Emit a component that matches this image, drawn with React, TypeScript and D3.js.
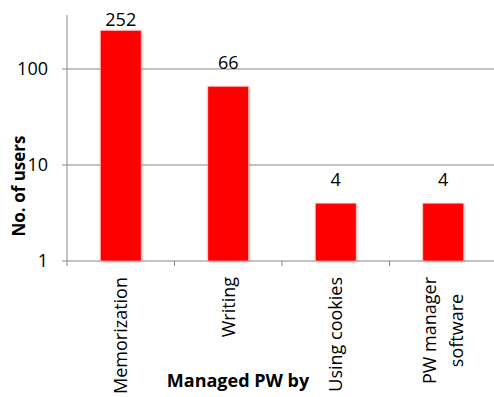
import React, { useEffect, useRef } from "react";
import * as d3 from "d3";

const categories: string[][] = [["Memorization"], ["Writing"], ["Using cookies"], ["PW manager", "software"]];
const values: number[] = [252, 66, 4, 4];
const yTicks: number[] = [1, 10, 100];
const yLabel = "No. of users";
const xLabel = "Managed PW by";

const W = 494, H = 397;
const FONT = "'Open Sans', sans-serif";

export default function App() {
  const ref = useRef<SVGSVGElement>(null);
  useEffect(() => {
    const svg = d3.select(ref.current);
    svg.selectAll("*").remove();
    const left = 67, right = 497, top = 15, bottom = 261;
    const y = d3.scaleLog().domain([1, Math.pow(10, (bottom - top) / 96)]).range([bottom, top]);
    const x = d3.scaleBand<number>().domain(d3.range(values.length)).range([left, right]).paddingInner(0.62).paddingOuter(0.31);
    const step = x.step();

    const defs = svg.append("defs");
    const f = defs.append("filter").attr("id", "sh").attr("x", "-20%").attr("y", "-20%").attr("width", "140%").attr("height", "140%");
    f.append("feDropShadow").attr("dx", 0.5).attr("dy", 0.5).attr("stdDeviation", 1).attr("flood-color", "#000").attr("flood-opacity", 0.3);

    const grid = "#868686";
    yTicks.forEach((t) => {
      svg.append("line").attr("x1", left - 5).attr("x2", W).attr("y1", y(t)).attr("y2", y(t)).attr("stroke", grid).attr("stroke-width", 1);
      svg.append("text").attr("x", 48).attr("y", y(t)).attr("dy", "0.35em").attr("text-anchor", "end")
        .attr("font-family", FONT).attr("font-size", 18).attr("fill", "#000").text(String(t));
    });
    svg.append("line").attr("x1", left).attr("x2", left).attr("y1", top).attr("y2", bottom).attr("stroke", grid).attr("stroke-width", 1);
    d3.range(values.length + 1).forEach((i) => {
      const xx = left + i * step;
      svg.append("line").attr("x1", xx).attr("x2", xx).attr("y1", bottom).attr("y2", bottom + 5).attr("stroke", grid).attr("stroke-width", 1);
    });

    values.forEach((v, i) => {
      svg.append("rect").attr("x", x(i)!).attr("y", y(v)).attr("width", x.bandwidth()).attr("height", bottom - y(v))
        .attr("fill", "#ff0000").attr("stroke", "#ffd0d0").attr("stroke-width", 0.6).attr("filter", "url(#sh)");
      svg.append("text").attr("x", x(i)! + x.bandwidth() / 2).attr("y", Math.max(y(v) - 17, 26)).attr("text-anchor", "middle")
        .attr("font-family", FONT).attr("font-size", 18).attr("fill", "#000").text(String(v));
    });

    categories.forEach((lines, i) => {
      const cx = x(i)! + x.bandwidth() / 2;
      const lh = 27;
      const g = svg.append("g");
      const texts = lines.map((ln, k) => {
        const off = (k - (lines.length - 1) / 2) * lh;
        return g.append("text").attr("transform", `translate(${cx + off},0) rotate(-90)`)
          .attr("dy", "0.35em").attr("text-anchor", "middle")
          .attr("font-family", FONT).attr("font-size", 18).attr("fill", "#000").text(ln);
      });
      const maxLen = d3.max(texts, (t) => (t.node() as SVGTextElement).getComputedTextLength()) || 0;
      const cy = 277 + maxLen / 2;
      texts.forEach((t, k) => {
        const off = (k - (lines.length - 1) / 2) * lh;
        t.attr("transform", `translate(${cx + off},${cy}) rotate(-90)`);
      });
    });

    svg.append("text").attr("x", 238).attr("y", 387).attr("text-anchor", "middle")
      .attr("font-family", FONT).attr("font-weight", "bold").attr("font-size", 18).attr("fill", "#000").text(xLabel);
    svg.append("text").attr("transform", `translate(25,186) rotate(-90)`).attr("text-anchor", "middle")
      .attr("font-family", FONT).attr("font-weight", "bold").attr("font-size", 17).attr("fill", "#000").text(yLabel);
  }, []);
  return <svg ref={ref} width={W} height={H} style={{ position: "absolute", left: 0, top: 0, background: "#fff" }} />;
}
